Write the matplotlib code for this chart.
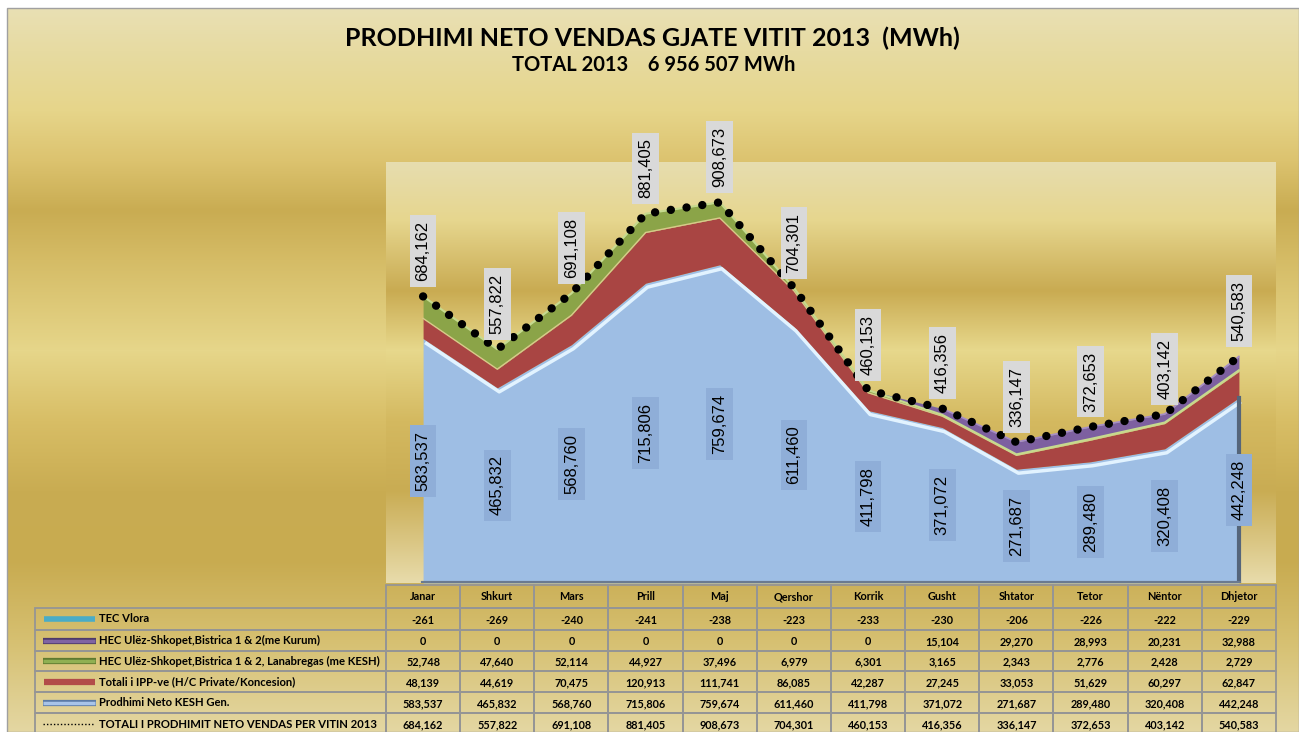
import numpy as np
import matplotlib.pyplot as plt
from matplotlib.colors import to_rgb
from matplotlib.patches import Rectangle
from matplotlib.transforms import offset_copy

# ---- data ----
months = ["Janar", "Shkurt", "Mars", "Prill", "Maj", "Qershor", "Korrik",
          "Gusht", "Shtator", "Tetor", "Nëntor", "Dhjetor"]
tec_vlora = [-261, -269, -240, -241, -238, -223, -233, -230, -206, -226, -222, -229]
hec_kurum = [0, 0, 0, 0, 0, 0, 0, 15104, 29270, 28993, 20231, 32988]
hec_kesh = [52748, 47640, 52114, 44927, 37496, 6979, 6301, 3165, 2343, 2776, 2428, 2729]
ipp = [48139, 44619, 70475, 120913, 111741, 86085, 42287, 27245, 33053, 51629, 60297, 62847]
kesh_gen = [583537, 465832, 568760, 715806, 759674, 611460, 411798, 371072, 271687,
            289480, 320408, 442248]
total = [684162, 557822, 691108, 881405, 908673, 704301, 460153, 416356, 336147,
         372653, 403142, 540583]

series_names = ["TEC Vlora",
                "HEC Ulëz-Shkopet,Bistrica 1 & 2(me Kurum)",
                "HEC Ulëz-Shkopet,Bistrica 1 & 2, Lanabregas (me KESH)",
                "Totali i IPP-ve (H/C Private/Koncesion)",
                "Prodhimi Neto KESH Gen.",
                "TOTALI I PRODHIMIT NETO VENDAS PER VITIN 2013"]
title = "PRODHIMI NETO VENDAS GJATE VITIT 2013  (MWh)"
subtitle = "TOTAL 2013    6 956 507 MWh"

W, H = 1299, 732
BOLD = ["Lato", "DejaVu Sans"]


def gradient(stops, top, bottom):
    ys = np.arange(top, bottom)
    pos = [s[0] for s in stops]
    cols = np.array([to_rgb(s[1]) for s in stops])
    out = np.stack([np.interp(ys, pos, cols[:, k]) for k in range(3)], axis=-1)
    return out[:, None, :]


fig = plt.figure(figsize=(W / 100, H / 100), dpi=100, facecolor="white")

# background with gold bands
bg = fig.add_axes([0, 0, 1, 1])
bg.set_xlim(0, W)
bg.set_ylim(H, 0)
bg.axis("off")
bg_stops = [(8, "#e9e0b4"), (50, "#e7dba2"), (110, "#e6d58a"), (160, "#dcc36f"),
            (210, "#c9ac52"), (260, "#d5bc66"), (350, "#e6d68a"), (420, "#d8be66"),
            (490, "#c9ac52"), (560, "#c8ab50"), (640, "#d6c071"), (732, "#e4d7a3")]
bg.imshow(gradient(bg_stops, 8, H), extent=(7, W, H, 8), aspect="auto", zorder=0)
bg.set_xlim(0, W)
bg.set_ylim(H, 0)
bg.add_patch(Rectangle((7, 8), W - 7, H - 8, fill=False, ec="#a0a0a0", lw=1, zorder=1))

fig.text(652 / W, 1 - 38 / H, title, ha="center", va="center", fontsize=18,
         fontweight="bold", family=BOLD)
fig.text(654 / W, 1 - 65 / H, subtitle, ha="center", va="center", fontsize=14.5,
         fontweight="bold", family=BOLD)

# ---- plot area ----
ax = fig.add_axes([386 / W, (H - 583) / H, 890 / W, 421 / H])
ymax = 1005000
area_stops = [(162, "#e6ddaf"), (220, "#e6d68e"), (290, "#c9ab52"), (350, "#e7d88c"),
              (420, "#d4b960"), (490, "#c9ac53"), (583, "#e8dcac")]
ax.imshow(gradient(area_stops, 162, 583), extent=(-0.5, 11.5, 0, ymax),
          aspect="auto", zorder=0)
ax.set_xlim(-0.5, 11.5)
ax.set_ylim(0, ymax)
ax.axis("off")

x = np.arange(len(months))
b1 = np.array(kesh_gen)
b2 = b1 + np.array(ipp)
b3 = b2 + np.array(hec_kesh)
b4 = b3 + np.array(hec_kurum)
b5 = b4 + np.array(tec_vlora)

ax.fill_between(x, 0, b1, color="#9ebee4", lw=0, zorder=2)
ax.fill_between(x, b1, b2, color="#a94543", lw=0, zorder=2)
ax.fill_between(x, b2, b3, color="#8ba448", lw=0, zorder=2)
ax.fill_between(x, b3, b4, color="#7d60a0", lw=0, zorder=2)
ax.fill_between(x, b5, b4, color="#4aacc6", lw=0, zorder=2)

# bevel-like highlights
hl = offset_copy(ax.transData, fig=fig, x=2, y=-4, units="dots")
ax.plot(x, b1, color="#e2f3ff", lw=2.5, transform=hl, zorder=3, solid_capstyle="butt")
ax.plot(x, b2, color="#d8c98a", lw=1, zorder=3)
ax.plot(x, b3, color="#c6da8e", lw=1.5, zorder=3)
ax.plot(x[7:], b4[7:], color="#a68dc8", lw=1.2, zorder=3)
ax.plot([x[-1], x[-1]], [0, b1[-1]], color="#55657a", lw=3, zorder=3)
ax.plot([x[0], x[-1]], [0, 0], color="#6a7a90", lw=3, zorder=3)

# total dotted line
ax.plot(x, total, color="black", lw=6, linestyle=(0, (0.01, 1.9)),
        dash_capstyle="round", zorder=6)

for i in range(len(months)):
    ax.annotate(f"{total[i]:,}", (x[i], total[i]), xytext=(0, 11),
                textcoords="offset points", rotation=90, ha="center", va="bottom",
                fontsize=12, family="Liberation Sans", zorder=8,
                bbox=dict(boxstyle="square,pad=0.35", fc="#d9d9d9", ec="none"))
    ax.text(x[i], kesh_gen[i] / 2, f"{kesh_gen[i]:,}", rotation=90, ha="center",
            va="center", fontsize=12, family="Liberation Sans", zorder=8,
            bbox=dict(boxstyle="square,pad=0.35", fc="#8faed8", ec="none"))

# ---- data table ----
grid = "#959595"
left, x0, x1 = 35, 386, 1276
col_w = (x1 - x0) / len(months)
for j, m in enumerate(months):
    bg.add_patch(Rectangle((x0 + j * col_w, 585), col_w, 23, fill=False, ec=grid,
                           lw=1.3, zorder=2))
    bg.text(x0 + (j + 0.5) * col_w, 597, m, ha="center", va="center", fontsize=7.8,
            fontweight="bold", family=BOLD, zorder=3)

row_edges = [608, 630, 651, 671, 692, 713, 735]
rows = [tec_vlora, hec_kurum, hec_kesh, ipp, kesh_gen, total]
for r, vals in enumerate(rows):
    top, h = row_edges[r], row_edges[r + 1] - row_edges[r]
    yc = top + h / 2
    bg.add_patch(Rectangle((left, top), x0 - left, h, fill=False, ec=grid, lw=1.3,
                           zorder=2))
    for j, v in enumerate(vals):
        bg.add_patch(Rectangle((x0 + j * col_w, top), col_w, h, fill=False, ec=grid,
                               lw=1.3, zorder=2))
        bg.text(x0 + (j + 0.5) * col_w, yc + 1, f"{v:,}", ha="center", va="center",
                fontsize=7.8, fontweight="bold", family=BOLD, zorder=3)
    bg.text(99, yc, series_names[r], ha="left", va="center", fontsize=8.1,
            fontweight="bold", family=BOLD, zorder=3)

# legend keys
ky = [(r0 + r1) / 2 for r0, r1 in zip(row_edges[:-1], row_edges[1:])]
bg.plot([44, 95], [ky[0], ky[0]], color="#4aacc6", lw=4, solid_capstyle="butt", zorder=3)
bg.plot([43, 96], [ky[1], ky[1]], color="#4e3a6a", lw=4.5, solid_capstyle="butt", zorder=3)
bg.plot([43, 95], [ky[1], ky[1]], color="#8064a2", lw=2.5, solid_capstyle="butt", zorder=3)
bg.plot([43, 96], [ky[2], ky[2]], color="#5f7a30", lw=4.5, solid_capstyle="butt", zorder=3)
bg.plot([43, 95], [ky[2], ky[2]], color="#8fb052", lw=2.5, solid_capstyle="butt", zorder=3)
bg.plot([44, 95], [ky[3], ky[3]], color="#b24c49", lw=4.5, solid_capstyle="butt", zorder=3)
bg.plot([43, 96], [ky[4], ky[4]], color="#5a7aa6", lw=4.5, solid_capstyle="butt", zorder=3)
bg.plot([43, 95], [ky[4], ky[4]], color="#a8c4e8", lw=2.5, solid_capstyle="butt", zorder=3)
bg.plot([43, 94], [ky[5], ky[5]], color="black", lw=1, linestyle=(0, (1, 1.5)), zorder=3)

fig.savefig("out.png", dpi=100, facecolor="white")
